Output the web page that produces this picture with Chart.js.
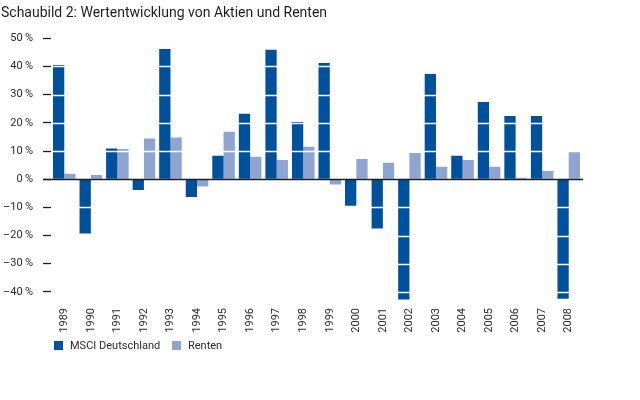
<!DOCTYPE html>
<html>
<head>
<meta charset="utf-8">
<script src="https://cdn.jsdelivr.net/npm/chart.js@4"></script>
<style>
    body { margin: 0; background: #fff; }
    #wrap { position: relative; width: 640px; height: 400px; }
    #legend { position: absolute; left: 54px; top: 339px; font: 11px 'Liberation Sans Narrow', 'Roboto', sans-serif; color: #2b2b2b; }
    #legend span.item { position: absolute; white-space: nowrap; line-height: 14px; }
    #legend i { display: inline-block; width: 9px; height: 9px; margin-right: 7px; vertical-align: -1px; }
</style>
</head>
<body>
<div id="wrap">
    <canvas id="myChart"></canvas>
    <div id="legend"></div>
</div>
<script>
const years = ['1989', '1990', '1991', '1992', '1993', '1994', '1995', '1996', '1997', '1998',
    '1999', '2000', '2001', '2002', '2003', '2004', '2005', '2006', '2007', '2008'];
const msci = [40.5, -19.3, 10.9, -3.8, 46.2, -6.3, 8.3, 23.2, 45.9, 20.3,
    41.2, -9.4, -17.5, -42.7, 37.3, 8.3, 27.4, 22.4, 22.4, -42.4];
const renten = [1.9, 1.5, 10.7, 14.4, 14.8, -2.6, 16.8, 8.0, 6.8, 11.5,
    -1.9, 7.2, 5.8, 9.3, 4.4, 6.8, 4.4, 0.5, 2.9, 10.0];
const seriesNames = ['MSCI Deutschland', 'Renten'];
const seriesColors = ['#00519c', '#8fa5d1'];
const yTicks = [-40, -30, -20, -10, 0, 10, 20, 30, 40, 50];

const textColor = '#2b2b2b';
const axisFont = "'Liberation Sans Narrow', 'Roboto', sans-serif";

// white grid lines sit on top of the bars, zero line dark
const gridOnTop = {
    id: 'gridOnTop',
    afterDatasetsDraw(chart) {
        const ctx = chart.ctx;
        const area = chart.chartArea;
        const y = chart.scales.y;
        ctx.save();
        yTicks.forEach(v => {
            const py = Math.round(y.getPixelForValue(v)) + 0.5;
            ctx.beginPath();
            if (v === 0) {
                ctx.strokeStyle = '#1e1e1e';
                ctx.lineWidth = 1.5;
                ctx.moveTo(area.left - 8, py);
            } else {
                ctx.strokeStyle = '#ffffff';
                ctx.lineWidth = 1.3;
                ctx.moveTo(area.left, py);
            }
            ctx.lineTo(area.right + 1, py);
            ctx.stroke();
        });
        ctx.restore();
    }
};

const ctx = document.getElementById('myChart');
new Chart(ctx, {
    type: 'bar',
    data: {
        labels: years,
        datasets: [{
            label: seriesNames[0],
            data: msci,
            backgroundColor: seriesColors[0]
        }, {
            label: seriesNames[1],
            data: renten,
            backgroundColor: seriesColors[1]
        }]
    },
    plugins: [gridOnTop],
    options: {
        responsive: true,
        maintainAspectRatio: false,
        animation: false,
        layout: {
            padding: { left: 1, right: 58, top: 5, bottom: 64 }
        },
        datasets: {
            bar: { categoryPercentage: 0.85, barPercentage: 1.0 }
        },
        scales: {
            x: {
                grid: { display: false, drawTicks: false },
                border: { display: false },
                ticks: {
                    autoSkip: false,
                    minRotation: 90,
                    maxRotation: 90,
                    padding: 2,
                    color: textColor,
                    font: { family: axisFont, size: 11 }
                },
                afterFit(scale) { scale.height = 30; }
            },
            y: {
                min: -45,
                max: 50,
                afterBuildTicks(scale) {
                    scale.ticks = yTicks.map(v => ({ value: v }));
                },
                grid: {
                    drawOnChartArea: false,
                    drawTicks: true,
                    tickLength: 8,
                    tickColor: '#1e1e1e',
                    tickWidth: 1.3
                },
                border: { display: false },
                ticks: {
                    padding: 10,
                    color: textColor,
                    font: { family: axisFont, size: 11 },
                    callback: v => (v < 0 ? '\u2013' + Math.abs(v) : v) + '\u2009%'
                },
                afterFit(scale) { scale.width = 50; }
            }
        },
        plugins: {
            legend: { display: false },
            tooltip: { enabled: false },
            title: {
                display: true,
                text: 'Schaubild 2: Wertentwicklung von Aktien und Renten',
                align: 'start',
                color: '#1e1e1e',
                font: { family: axisFont, size: 14, weight: 'normal' },
                padding: { top: 0, bottom: 16.5 }
            }
        }
    }
});

// legend below the chart
const legendEl = document.getElementById('legend');
const legendX = [0, 118];
seriesNames.forEach((name, i) => {
    const item = document.createElement('span');
    item.className = 'item';
    item.style.left = legendX[i] + 'px';
    item.innerHTML = '<i style="background:' + seriesColors[i] + '"></i>' + name;
    legendEl.appendChild(item);
});
</script>
</body>
</html>
